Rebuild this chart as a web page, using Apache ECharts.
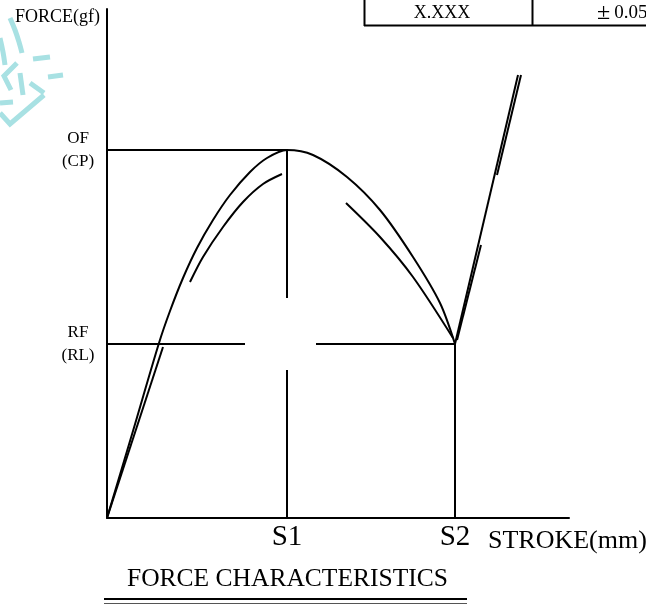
<!DOCTYPE html>
<html>
<head>
<meta charset="utf-8">
<script src="https://cdn.jsdelivr.net/npm/echarts@6/dist/echarts.min.js"></script>
<style>
  html, body { margin: 0; padding: 0; background: #fff; }
  #chart { width: 646px; height: 606px; }
</style>
</head>
<body>
<div id="chart"></div>
<script>
// stroke / force in drawing units (x from origin, y up from x-axis)
const strokeMax = 462;
const forceMax = 509;
const S1 = 180;          // stroke at operating force (peak)
const S2 = 348;          // stroke at release point
const OF = 368;          // operating force (CP)
const RF = 174;          // release force (RL)

// pressing curve: origin -> peak -> S2
const pressCurve = [
  [0, 0], [26, 87], [52, 175], [63, 207], [76, 240], [90, 270],
  [106, 298], [123, 323], [143, 346], [160, 360], [180, 368],
  [206, 363], [240, 341], [273, 308], [306, 261], [333, 215], [348, 174]
];
// bottoming out after S2
const bottomLine = [[348, 174], [411, 443]];

// return (release) curve, drawn in pieces
const returnLow = [[0, 0], [56, 171]];
const returnArc = [[83, 236], [96, 261], [116, 291], [136, 316], [156, 334], [175, 344]];
const returnFall = [[239, 315], [273, 281], [306, 241], [346, 180]];
const returnRise1 = [[350, 178], [374, 273]];
const returnRise2 = [[390, 343], [414, 443]];

// gaps in the guide lines around the S1 / RF crossing
const rfGap = [138, 209];
const s1Gap = [148, 220];

const xLabels = { [S1]: 'S1', [S2]: 'S2' };
const yLabels = { [OF]: 'OF\n(CP)', [RF]: 'RF\n(RL)' };

const FONT = 'Liberation Serif';
const chart = echarts.init(document.getElementById('chart'));

const guides = [
  [[0, OF], [S1, OF]],
  [[0, RF], [rfGap[0], RF]],
  [[rfGap[1], RF], [S2, RF]],
  [[S1, OF], [S1, s1Gap[1]]],
  [[S1, s1Gap[0]], [S1, 0]],
  [[S2, RF], [S2, 0]]
];

function curve(data, smooth) {
  return {
    type: 'line',
    data: data,
    smooth: smooth || false,
    symbol: 'none',
    silent: true,
    lineStyle: { color: '#000', width: 2 }
  };
}

const series = [
  curve(pressCurve, 0.3),
  curve(bottomLine),
  curve(returnLow),
  curve(returnArc, 0.3),
  curve(returnFall, 0.3),
  curve(returnRise1),
  curve(returnRise2)
].concat(guides.map(g => curve(g)));

const cyan = '#a8e1e3';
const mark = (pts, smooth) => ({
  type: 'polyline',
  shape: { points: pts, smooth: smooth || 0 },
  style: { stroke: cyan, lineWidth: 5, fill: null }
});
const rule = (x1, y1, x2, y2, w, c) => ({
  type: 'line',
  shape: { x1, y1, x2, y2 },
  style: { stroke: c || '#000', lineWidth: w || 2 }
});

chart.setOption({
  animation: false,
  backgroundColor: '#fff',
  title: {
    text: 'FORCE CHARACTERISTICS',
    left: 127,
    top: 566,
    padding: 0,
    textStyle: { fontFamily: FONT, fontSize: 25.5, fontWeight: 'normal', color: '#000' }
  },
  grid: { left: 107, top: 9, right: 77, bottom: 88, outerBoundsMode: 'none' },
  xAxis: {
    type: 'value',
    min: 0,
    max: strokeMax,
    splitLine: { show: false },
    axisTick: { show: false },
    axisLine: { lineStyle: { color: '#000', width: 2 } },
    axisLabel: {
      customValues: [S1, S2],
      formatter: v => xLabels[v] || '',
      margin: 5,
      fontFamily: FONT,
      fontSize: 29,
      color: '#000'
    }
  },
  yAxis: {
    type: 'value',
    min: 0,
    max: forceMax,
    splitLine: { show: false },
    axisTick: { show: false },
    axisLine: { lineStyle: { color: '#000', width: 2 } },
    axisLabel: {
      customValues: [RF, OF],
      formatter: v => yLabels[v] || '',
      align: 'center',
      margin: 29,
      lineHeight: 23,
      fontFamily: FONT,
      fontSize: 17,
      color: '#000'
    }
  },
  graphic: [
    // watermark fragments
    mark([[10, 18], [15, 30], [19, 42], [22, 53]], 0.4),
    mark([[33, 59], [50, 57]]),
    mark([[48, 77], [63, 75]]),
    mark([[0, 38], [3, 52], [5, 65]], 0.4),
    mark([[17, 63], [4, 76], [11, 90]]),
    mark([[20, 73], [23, 95]]),
    mark([[30, 83], [44, 93]]),
    mark([[0, 113], [10, 124], [44, 95]]),
    mark([[0, 103], [13, 102]]),
    // tolerance table
    rule(364.5, 0, 364.5, 26),
    rule(532.5, 0, 532.5, 26),
    rule(364, 25.5, 646, 25.5),
    { type: 'text', x: 442, y: 13, style: { text: 'X.XXX', font: '18px ' + FONT, fill: '#000', align: 'center', verticalAlign: 'middle' } },
    {
      type: 'text', x: 597, y: 13,
      style: {
        text: '{pm|±}{v|0.05}',
        rich: {
          pm: { fontFamily: FONT, fontSize: 24, fill: '#000', padding: [0, 4, 0, 0] },
          v: { fontFamily: FONT, fontSize: 19, fill: '#000' }
        },
        align: 'left',
        verticalAlign: 'middle'
      }
    },
    // axis names
    { type: 'text', x: 100, y: 17, style: { text: 'FORCE(gf)', font: '18px ' + FONT, fill: '#000', align: 'right', verticalAlign: 'middle' } },
    { type: 'text', x: 488, y: 541, style: { text: 'STROKE(mm)', font: '26px ' + FONT, fill: '#000', align: 'left', verticalAlign: 'middle' } },
    // title double underline
    rule(104, 599, 467, 599, 2),
    rule(104, 603.5, 467, 603.5, 1, '#555')
  ],
  series: series
});
</script>
</body>
</html>
